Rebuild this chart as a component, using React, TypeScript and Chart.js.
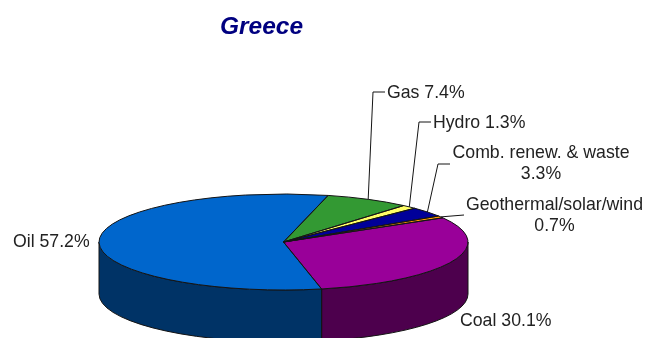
import React, { useEffect, useRef } from "react";
import { Chart, registerables } from "chart.js";

Chart.register(...registerables);

// Primary energy supply shares, in percent, clockwise from the Gas slice.
const categories = ["Gas", "Hydro", "Comb. renew. & waste", "Geothermal/solar/wind", "Coal", "Oil"];
const shares = [7.4, 1.3, 3.3, 0.7, 30.1, 57.2];
const topColors = ["#339933", "#FFFF66", "#000099", "#FF9900", "#990099", "#0066CC"];
const sideColors = ["#1A4D1A", "#808033", "#00004D", "#804D00", "#4D004D", "#003366"];

// Flattened disc placement on the page.
const CX = 283.5;
const CY = 242;
const RX = 184.5;
const RY = 48;
const DEPTH = 52;
const OUTLINE = "#141414";
const TEXT = "#222222";
const FONT = '17.7px "Liberation Sans", Arial, sans-serif';

// Callout placement per slice: elbow and end of the leader, then text anchors.
type Callout = {
  leader?: [number, number][];
  split?: boolean;
  x: number;
  y: number;
  align: CanvasTextAlign;
};
const callouts: Callout[] = [
  { leader: [[373, 92], [385, 92]], x: 387, y: 93, align: "left" },
  { leader: [[419, 122], [431, 122]], x: 433, y: 123, align: "left" },
  { leader: [[438, 164], [450, 164]], split: true, x: 541, y: 153.5, align: "center" },
  { leader: [[464, 215]], split: true, x: 554.5, y: 205.5, align: "center" },
  { x: 460, y: 321, align: "left" },
  { x: 13, y: 242, align: "left" },
];

const projectPoint = (angle: number, drop = 0): [number, number] => [
  CX + RX * Math.cos(angle),
  CY + RY * Math.sin(angle) + drop,
];

// The arcs come out of the library as circles; this squashes them into a disc,
// adds the side wall beneath and writes the callouts on top.
const discPlugin = {
  id: "disc",
  beforeDatasetsDraw(chart: any) {
    const ctx: CanvasRenderingContext2D = chart.ctx;
    chart.getDatasetMeta(0).data.forEach((arc: any, i: number) => {
      for (const shift of [0, Math.PI * 2]) {
        const from = Math.max(arc.startAngle - shift, 0);
        const to = Math.min(arc.endAngle - shift, Math.PI);
        if (to <= from) continue;
        ctx.beginPath();
        ctx.ellipse(CX, CY, RX, RY, 0, from, to);
        ctx.lineTo(...projectPoint(to, DEPTH));
        ctx.ellipse(CX, CY + DEPTH, RX, RY, 0, to, from, true);
        ctx.closePath();
        ctx.fillStyle = sideColors[i];
        ctx.fill();
        ctx.strokeStyle = OUTLINE;
        ctx.lineWidth = 1;
        ctx.stroke();
      }
    });
  },
  beforeDatasetDraw(chart: any) {
    const ctx: CanvasRenderingContext2D = chart.ctx;
    const first = chart.getDatasetMeta(0).data[0];
    const r = first.outerRadius;
    ctx.save();
    ctx.translate(CX, CY);
    ctx.scale(RX / r, RY / r);
    ctx.translate(-first.x, -first.y);
  },
  afterDatasetDraw(chart: any) {
    chart.ctx.restore();
  },
  afterDatasetsDraw(chart: any) {
    const ctx: CanvasRenderingContext2D = chart.ctx;
    const arcs = chart.getDatasetMeta(0).data;
    ctx.strokeStyle = OUTLINE;
    ctx.lineWidth = 1;
    arcs.forEach((arc: any) => {
      ctx.beginPath();
      ctx.moveTo(CX, CY);
      ctx.ellipse(CX, CY, RX, RY, 0, arc.startAngle, arc.endAngle);
      ctx.closePath();
      ctx.stroke();
    });

    ctx.font = FONT;
    ctx.textBaseline = "middle";
    arcs.forEach((arc: any, i: number) => {
      const c = callouts[i];
      if (c.leader) {
        const mid = (arc.startAngle + arc.endAngle) / 2;
        ctx.beginPath();
        ctx.moveTo(...projectPoint(mid));
        c.leader.forEach(([x, y]) => ctx.lineTo(x, y));
        ctx.strokeStyle = OUTLINE;
        ctx.stroke();
      }
      const pct = `${shares[i].toFixed(1)}%`;
      ctx.fillStyle = TEXT;
      ctx.textAlign = c.align;
      if (c.split) {
        ctx.fillText(categories[i], c.x, c.y);
        ctx.fillText(pct, c.x, c.y + 21);
      } else {
        ctx.fillText(`${categories[i]} ${pct}`, c.x, c.y);
      }
    });
  },
};

export default function App() {
  const ref = useRef<HTMLCanvasElement>(null);
  useEffect(() => {
    const chart = new Chart(ref.current!, {
      type: "pie",
      data: {
        labels: categories,
        datasets: [
          {
            data: shares,
            backgroundColor: topColors,
            borderWidth: 0,
            clip: false,
          } as any,
        ],
      },
      options: {
        animation: false,
        responsive: false,
        devicePixelRatio: 1,
        rotation: 14,
        layout: { padding: { left: 0, right: 123, top: 0, bottom: 0 } },
        plugins: {
          legend: { display: false },
          tooltip: { enabled: false },
          title: {
            display: true,
            text: "Greece",
            color: "#000080",
            font: { family: '"Liberation Sans", Arial, sans-serif', size: 24.5, weight: "bold", style: "italic" },
            padding: { top: 13, bottom: 10 },
          },
        },
      },
      plugins: [discPlugin],
    });
    return () => chart.destroy();
  }, []);
  return (
    <div style={{ position: "absolute", left: 0, top: 0, width: 646, height: 338, overflow: "hidden", background: "#fff" }}>
      <canvas ref={ref} width={646} height={338} style={{ display: "block" }} />
    </div>
  );
}
